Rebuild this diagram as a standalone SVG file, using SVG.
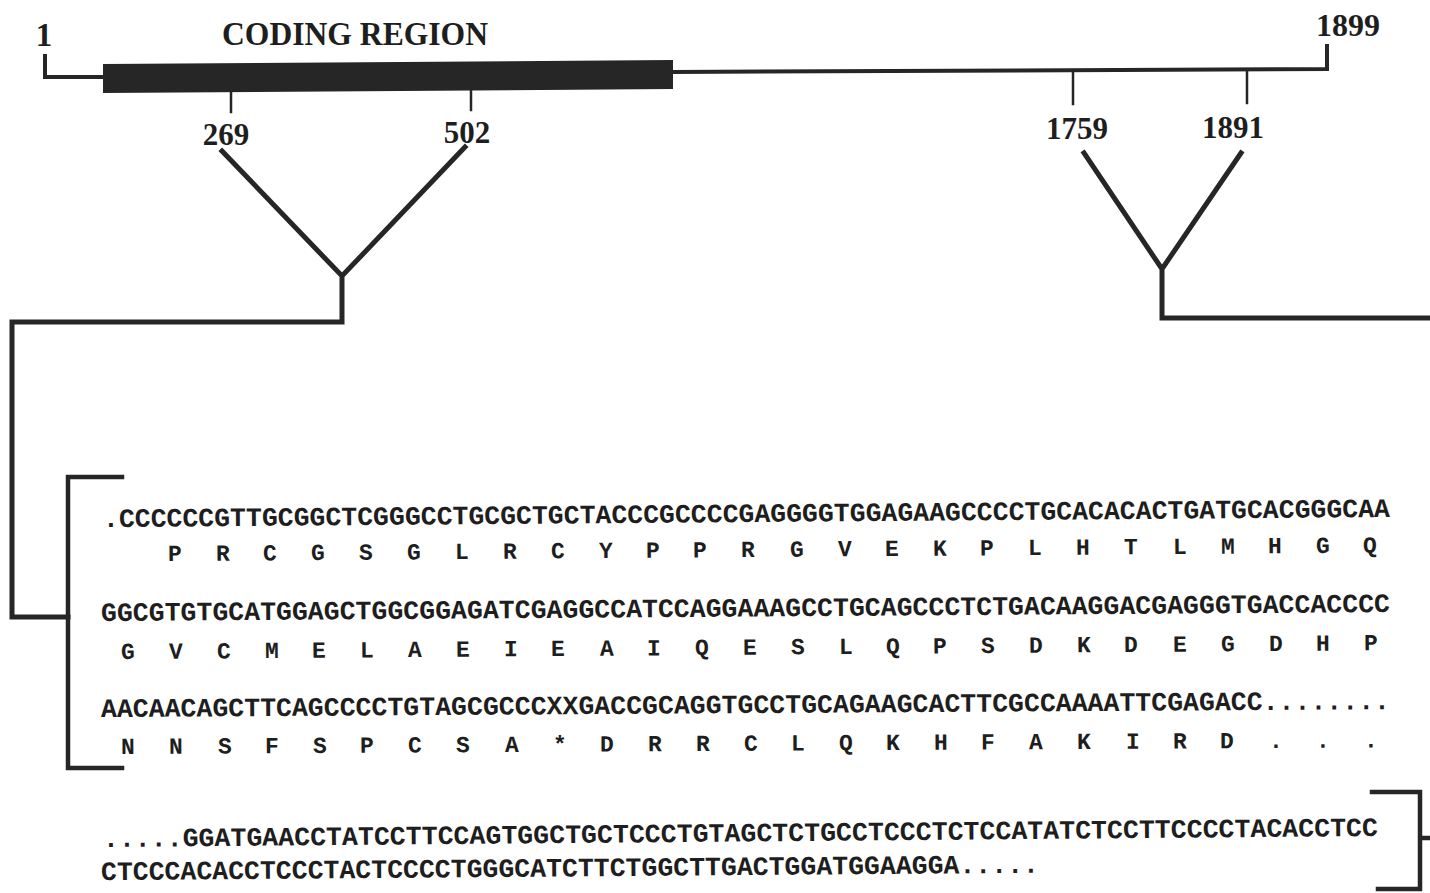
<svg xmlns="http://www.w3.org/2000/svg" width="1430" height="893" viewBox="0 0 1430 893">
<style>
.lbl{font-family:"Liberation Serif","Times New Roman",serif;font-weight:bold;fill:#1e1e1e}
.seq{font-family:"Liberation Mono","Courier New",monospace;font-weight:bold;font-size:26.4px;fill:#1e1e1e}
.aa{font-family:"Liberation Mono","Courier New",monospace;font-weight:bold;font-size:23px;fill:#1e1e1e;text-anchor:middle}
.ln{stroke:#262626;fill:none;stroke-linecap:square}
</style>
<rect width="1430" height="893" fill="#ffffff"/>
<g id="map">
<text class="lbl" x="44" y="46" font-size="33" text-anchor="middle">1</text>
<text class="lbl" x="222" y="45" font-size="34" textLength="266" lengthAdjust="spacingAndGlyphs">CODING REGION</text>
<text class="lbl" x="1348" y="36" font-size="32" text-anchor="middle">1899</text>
<path class="ln" stroke-width="4" d="M45 56 V77 H103"/>
<polygon points="103,64 673,60 673,89 103,93" fill="#262626"/>
<path class="ln" stroke-width="4" d="M673 72 L1327 69 V46"/>
<path class="ln" stroke-width="2.5" d="M231 92 V112 M471 90 V110 M1073 73 V104 M1247 71 V103"/>
<text class="lbl" x="226" y="145" font-size="31" text-anchor="middle">269</text>
<text class="lbl" x="467" y="143" font-size="31" text-anchor="middle">502</text>
<text class="lbl" x="1077" y="139" font-size="31" text-anchor="middle">1759</text>
<text class="lbl" x="1233" y="138" font-size="31" text-anchor="middle">1891</text>
</g>
<g id="connectors">
<path class="ln" stroke-width="5" stroke-linejoin="miter" d="M222 151 L342 276 L465 147 M342 276 V322 H12 V617 H68"/>
<path class="ln" stroke-width="5" d="M1084 153 L1162 269 L1241 153 M1162 269 V318 H1432"/>
</g>
<g id="bracket-left">
<path class="ln" stroke-width="4.5" d="M122 477 H68 V768 H122"/>
</g>
<g id="bracket-right">
<path class="ln" stroke-width="4.5" d="M1372 792 H1420 V889 H1378 M1420 838 H1432"/>
</g>
<g id="sequence">
<text class="seq" x="103" y="527" textLength="1287" lengthAdjust="spacingAndGlyphs" transform="rotate(-0.45 103 527)">.CCCCCCGTTGCGGCTCGGGCCTGCGCTGCTACCCGCCCCGAGGGGTGGAGAAGCCCCTGCACACACTGATGCACGGGCAA</text>
<text class="aa" y="561" x="175 223 270 318 366 414 462 510 558 606 653 700 748 797 845 892 940 987 1035 1083 1131 1180 1228 1275 1323 1370" transform="rotate(-0.4 175 561)">PRCGSGLRCYPPRGVEKPLHTLMHGQ</text>
<text class="seq" x="101" y="621" textLength="1289" lengthAdjust="spacingAndGlyphs" transform="rotate(-0.4 101 621)">GGCGTGTGCATGGAGCTGGCGGAGATCGAGGCCATCCAGGAAAGCCTGCAGCCCTCTGACAAGGACGAGGGTGACCACCCC</text>
<text class="aa" y="659" x="128 176 224 272 319 367 415 463 511 558 607 654 702 750 798 846 893 940 988 1036 1084 1131 1180 1228 1276 1323 1371" transform="rotate(-0.4 128 659)">GVCMELAEIEAIQESLQPSDKDEGDHP</text>
<text class="seq" x="101" y="717" textLength="1289" lengthAdjust="spacingAndGlyphs" transform="rotate(-0.35 101 717)">AACAACAGCTTCAGCCCCTGTAGCGCCCXXGACCGCAGGTGCCTGCAGAAGCACTTCGCCAAAATTCGAGACC........</text>
<text class="aa" y="754" x="128 176 225 272 320 367 415 463 512 560 607 655 703 751 798 846 893 941 988 1036 1084 1133 1180 1227 1276 1323 1371" transform="rotate(-0.3 128 754)">NNSFSPCSA*DRRCLQKHFAKIRD...</text>
<text class="seq" x="103" y="847" textLength="1275" lengthAdjust="spacingAndGlyphs" transform="rotate(-0.5 103 847)">.....GGATGAACCTATCCTTCCAGTGGCTGCTCCCTGTAGCTCTGCCTCCCTCTCCATATCTCCTTCCCCTACACCTCC</text>
<text class="seq" x="101" y="880" textLength="938" lengthAdjust="spacingAndGlyphs" transform="rotate(-0.45 101 880)">CTCCCACACCTCCCTACTCCCCTGGGCATCTTCTGGCTTGACTGGATGGAAGGA.....</text>
</g>
</svg>
